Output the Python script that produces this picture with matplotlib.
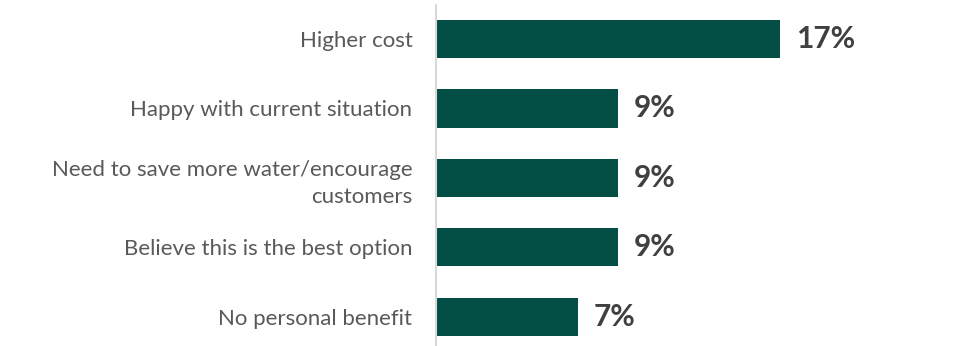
import matplotlib
matplotlib.use("Agg")
import matplotlib.pyplot as plt

# Reasons given for the choice, share of respondents (%)
categories = [
    "Higher cost",
    "Happy with current situation",
    "Need to save more water/encourage\ncustomers",
    "Believe this is the best option",
    "No personal benefit",
]
values = [17, 9, 9, 9, 7]
value_labels = ["17%", "9%", "9%", "9%", "7%"]

BAR_COLOR = "#044f45"
LABEL_COLOR = "#595959"
VALUE_COLOR = "#404040"

plt.rcParams["font.family"] = ["Lato", "DejaVu Sans"]

fig = plt.figure(figsize=(9.72, 3.46), dpi=100)
ax = fig.add_axes([436 / 972, 0, 1 - 436 / 972, 341 / 346])

y = list(range(len(categories)))
ax.barh(y, values, height=0.55, color=BAR_COLOR)

for yi, v, lab in zip(y, values, value_labels):
    ax.text(v + 0.8, yi, lab, va="center", ha="left",
            fontsize=21.5, fontweight="bold", color=VALUE_COLOR)

ax.set_xlim(0, 26.5)
ax.set_ylim(4.42, -0.49)
ax.set_yticks(y)
ax.set_yticklabels(categories, fontsize=16, color=LABEL_COLOR,
                   ha="right", multialignment="right", linespacing=1.45)
ax.tick_params(axis="y", length=0, pad=17)
ax.set_xticks([])

for side in ["top", "right", "bottom"]:
    ax.spines[side].set_visible(False)
ax.spines["left"].set_color("#d9d9d9")
ax.spines["left"].set_linewidth(1.5)

fig.savefig("out.png", dpi=100, facecolor="white")
